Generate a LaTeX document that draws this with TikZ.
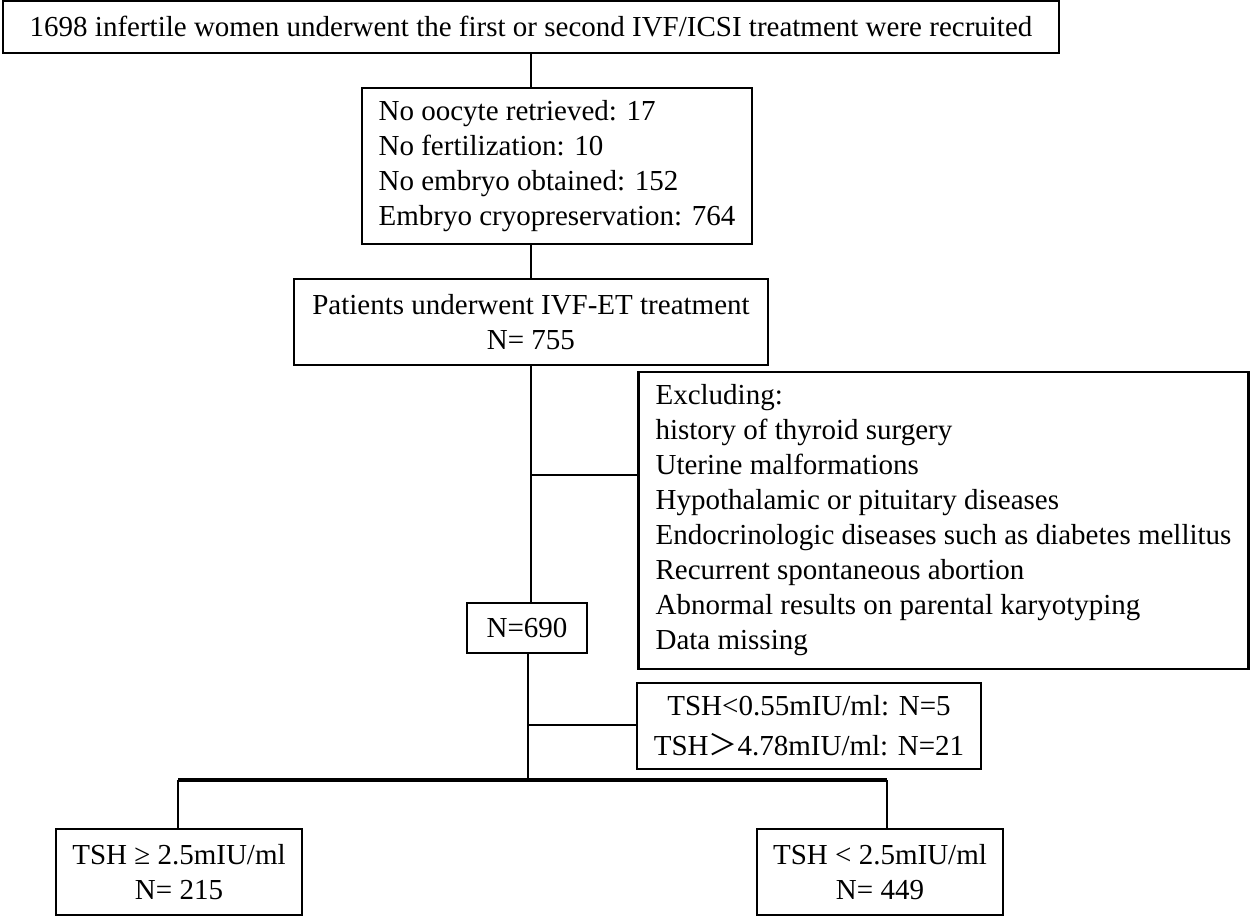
\documentclass[tikz,border=0pt]{standalone}
\usepackage{fontspec}
\setmainfont{Liberation Serif}
\newfontfamily\cjk{Noto Sans CJK SC}
\begin{document}
\begin{tikzpicture}[x=1pt,y=-1pt,
  box/.style={draw, line width=2.8pt, inner sep=0pt, font=\fontsize{29}{35}\selectfont},
  conn/.style={line width=2.6pt},
  thick conn/.style={line width=3.4pt}]
\useasboundingbox (0,0) rectangle (1252,919);
\node[box, minimum width=1056, minimum height=52, align=center] (top) at (531,27)
  {1698 infertile women underwent the first or second IVF/ICSI treatment were recruited};
\node[box, minimum width=390, minimum height=156, align=left] (b2) at (557,166)
  {No oocyte retrieved: 17\\No fertilization: 10\\No embryo obtained: 152\\Embryo cryopreservation: 764};
\node[box, minimum width=474, minimum height=86, align=center] (b3) at (531,322)
  {Patients underwent IVF-ET treatment\\N= 755};
\node[box, minimum width=610, minimum height=297, align=left] (excl) at (943.5,520.5)
  {Excluding:\\history of thyroid surgery\\Uterine malformations\\Hypothalamic or pituitary diseases\\Endocrinologic diseases such as diabetes mellitus\\Recurrent spontaneous abortion\\Abnormal results on parental karyotyping\\Data missing};
\node[box, minimum width=120, minimum height=50, align=center] (n690) at (527,628) {N=690};
\node[box, minimum width=344, minimum height=86, align=center, font=\fontsize{29}{40}\selectfont] (tsh) at (809,726)
  {TSH<0.55mIU/ml: N=5\\TSH{\cjk ＞}4.78mIU/ml: N=21};
\node[box, minimum width=246, minimum height=86, align=center] (lo) at (179,872)
  {TSH ≥ 2.5mIU/ml\\N= 215};
\node[box, minimum width=246, minimum height=86, align=center] (hi) at (880,872)
  {TSH < 2.5mIU/ml\\N= 449};
% connectors
\coordinate (j1) at (531,475);
\coordinate (j2) at (528,725);
\coordinate (j3) at (528,780);
\coordinate (lt) at (178,780);
\coordinate (rt) at (887,780);
\draw[conn] (top.south) -- (top.south |- b2.north);
\draw[conn] (b2.south -| top.south) -- (b3.north);
\draw[conn] (b3.south) -- (b3.south |- n690.north);
\draw[conn] (j1) -- (j1 -| excl.west);
\draw[conn] (n690.south -| j2) -- (j3);
\draw[conn] (j2) -- (j2 -| tsh.west);
\draw[thick conn] (lt) -- (rt);
\draw[conn] (lt) -- (lt |- lo.north);
\draw[conn] (rt) -- (rt |- hi.north);
\end{tikzpicture}
\end{document}
